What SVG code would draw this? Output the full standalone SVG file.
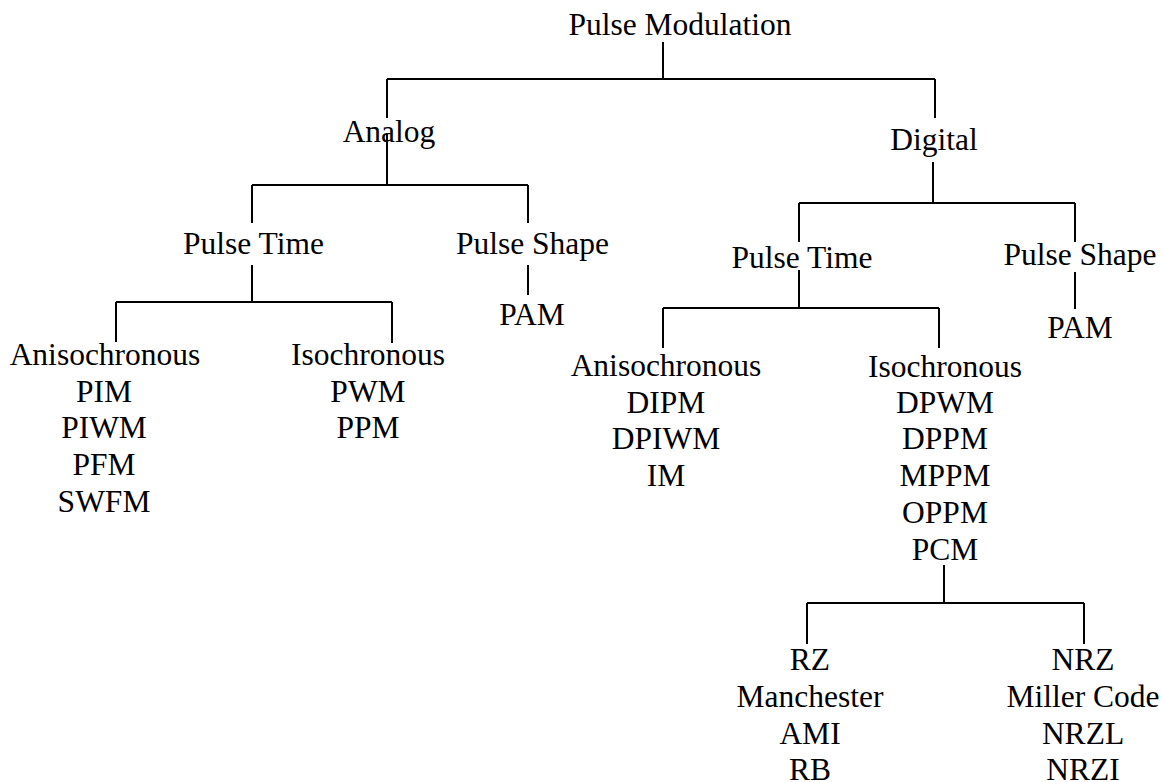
<svg xmlns="http://www.w3.org/2000/svg" width="1163" height="782" viewBox="0 0 1163 782">
<style>
text{font-family:"Liberation Serif","Times New Roman",serif;font-size:31.5px;fill:#000;text-anchor:middle}
.c path{stroke:#000;stroke-width:2;fill:none}
</style>
<rect width="1163" height="782" fill="#fff"/>
<g class="c" id="connectors">
<path d="M663,42V79M387,79H935M387,79V118M935,79V118"/>
<path d="M387,133V185M252,185H528M252,185V223M528,185V223"/>
<path d="M252,265V302M116,302H392M116,302V342M392,302V343"/>
<path d="M528,265V295"/>
<path d="M933,162V203M799,203H1075M799,203V242M1075,203V242"/>
<path d="M799,270V308M663,308H939M663,308V348M939,308V348"/>
<path d="M1075,272V309"/>
<path d="M944,565V603M807,603H1084M807,603V644M1084,603V644"/>
</g>
<g id="root"><text x="680" y="35">Pulse Modulation</text></g>
<g id="analog"><text x="389" y="142">Analog</text></g>
<g id="digital"><text x="934" y="150">Digital</text></g>
<g id="a-time"><text x="253.5" y="254">Pulse Time</text></g>
<g id="a-shape"><text x="532.5" y="254">Pulse Shape</text></g>
<g id="a-pam"><text x="532" y="325">PAM</text></g>
<g id="a-aniso"><text><tspan x="105" y="365">Anisochronous</tspan><tspan x="104" y="402">PIM</tspan><tspan x="104" y="438">PIWM</tspan><tspan x="104" y="475">PFM</tspan><tspan x="104" y="512">SWFM</tspan></text></g>
<g id="a-iso"><text><tspan x="368" y="365">Isochronous</tspan><tspan x="368" y="402">PWM</tspan><tspan x="368" y="438">PPM</tspan></text></g>
<g id="d-time"><text x="802" y="268">Pulse Time</text></g>
<g id="d-shape"><text x="1080" y="265">Pulse Shape</text></g>
<g id="d-pam"><text x="1080" y="338">PAM</text></g>
<g id="d-aniso"><text><tspan x="666" y="376">Anisochronous</tspan><tspan x="666" y="413">DIPM</tspan><tspan x="666" y="449">DPIWM</tspan><tspan x="666" y="486">IM</tspan></text></g>
<g id="d-iso"><text><tspan x="945" y="377">Isochronous</tspan><tspan x="945" y="413">DPWM</tspan><tspan x="945" y="449">DPPM</tspan><tspan x="945" y="486">MPPM</tspan><tspan x="945" y="523">OPPM</tspan><tspan x="945" y="560">PCM</tspan></text></g>
<g id="rz"><text><tspan x="810" y="670">RZ</tspan><tspan x="810" y="707">Manchester</tspan><tspan x="810" y="744">AMI</tspan><tspan x="810" y="780">RB</tspan></text></g>
<g id="nrz"><text><tspan x="1083" y="670">NRZ</tspan><tspan x="1083" y="707">Miller Code</tspan><tspan x="1083" y="744">NRZL</tspan><tspan x="1083" y="780">NRZI</tspan></text></g>
</svg>
